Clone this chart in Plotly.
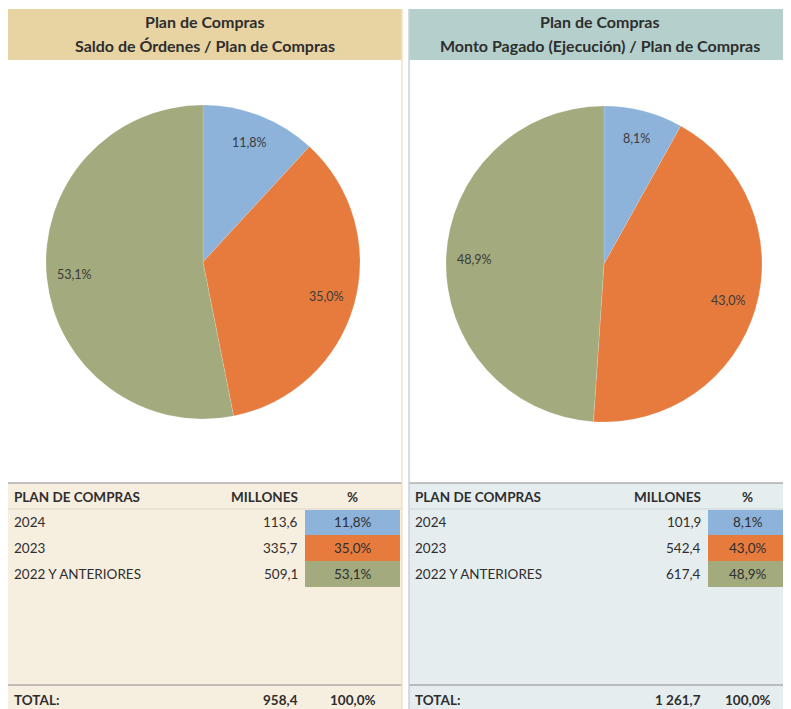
import math
import plotly.graph_objects as go

# page body has an 8px margin; design in screenshot pixels and offset
OFF = 8
W, H = 791, 709
FW, FH = W - OFF, H - OFF

# ---- data ----
categories = ["2024", "2023", "2022 Y ANTERIORES"]
saldo_millones = [113.6, 335.7, 509.1]
saldo_pct = [11.8, 35.0, 53.1]
saldo_total = 958.4
pagado_millones = [101.9, 542.4, 617.4]
pagado_pct = [8.1, 43.0, 48.9]
pagado_total = 1261.7
total_pct = 100.0

title_top = "Plan de Compras"
title_left = "Saldo de Órdenes / Plan de Compras"
title_right = "Monto Pagado (Ejecución) / Plan de Compras"
col_headers = ["PLAN DE COMPRAS", "MILLONES", "%"]

slice_colors = ["#8DB3DA", "#E67B3D", "#A3AA7D"]
FONT = "Lato"
TXT = "#2E2E2E"
TS = 13.5


def px(x):
    return (x - OFF) / FW


def py(y):
    return 1 - (y - OFF) / FH


def fmt_num(v):
    s = f"{v:,.1f}"
    return s.replace(",", " ").replace(".", ",")


def fmt_pct(v):
    return f"{v:.1f}".replace(".", ",") + "%"


def text(x, y, s, anchor="center", size=TS, color=TXT):
    return dict(x=px(x), y=py(y), text=s, showarrow=False, xref="paper", yref="paper",
                xanchor=anchor, yanchor="middle",
                font=dict(size=size, color=color, family=FONT))


fig = go.Figure()
shapes = []
ann = []

panels = [
    dict(x0=8, x1=402, head="#E8D3A3", tbl="#F6EFE0", mid_line="#DDD5C6",
         center=(203, 262), r=157, vals=saldo_millones, pct=saldo_pct,
         total=saldo_total, title=title_left,
         name_x=12, num_x=300, pct_x0=305, pct_x1=400),
    dict(x0=409, x1=791, head="#B5D0CC", tbl="#E6EDEE", mid_line="#CDD5D8",
         center=(604, 264), r=158, vals=pagado_millones, pct=pagado_pct,
         total=pagado_total, title=title_right,
         name_x=413, num_x=703, pct_x0=708, pct_x1=787),
]

for p in panels:
    shapes.append(dict(type="rect", xref="paper", yref="paper",
                       x0=px(p["x0"]), x1=px(p["x1"]), y0=py(60), y1=py(9),
                       fillcolor=p["head"], line=dict(width=0), layer="below"))
    shapes.append(dict(type="rect", xref="paper", yref="paper",
                       x0=px(p["x0"]), x1=px(p["x1"]), y0=py(709), y1=py(483),
                       fillcolor=p["tbl"], line=dict(width=0), layer="below"))
    for yy, col, wd in [(483, "#8C8C8C", 1.2), (509, p["mid_line"], 1), (685, "#8C8C8C", 1.2)]:
        shapes.append(dict(type="line", xref="paper", yref="paper",
                           x0=px(p["x0"]), x1=px(p["x1"]), y0=py(yy), y1=py(yy),
                           line=dict(color=col, width=wd)))
    row_tops = [510, 535, 561, 587]
    for i in range(3):
        shapes.append(dict(type="rect", xref="paper", yref="paper",
                           x0=px(p["pct_x0"]), x1=px(p["pct_x1"]),
                           y0=py(row_tops[i + 1]), y1=py(row_tops[i]),
                           fillcolor=slice_colors[i], line=dict(width=0)))
    cx = (p["x0"] + p["x1"]) / 2
    ann.append(text(cx, 21, f"<b>{title_top}</b>", size=16))
    ann.append(text(cx, 46, f"<b>{p['title']}</b>", size=16))

    c, r = p["center"], p["r"]
    fig.add_trace(go.Pie(
        labels=categories, values=p["vals"], sort=False, direction="clockwise",
        rotation=0, textinfo="none", hoverinfo="label+percent",
        marker=dict(colors=slice_colors, line=dict(color="rgba(255,255,255,0.3)", width=0.5)),
        domain=dict(x=[px(c[0] - r), px(c[0] + r)], y=[py(c[1] + r), py(c[1] - r)]),
        showlegend=False))
    total = sum(p["vals"])
    cum = 0
    for v, pc in zip(p["vals"], p["pct"]):
        mid = (cum + v / 2) / total * 2 * math.pi
        cum += v
        rr = 0.82 * r
        lx = c[0] + rr * math.sin(mid)
        ly = c[1] - rr * math.cos(mid)
        ann.append(text(lx, ly, fmt_pct(pc), size=12.5, color="#3A3A3A"))

    pcx = (p["pct_x0"] + p["pct_x1"]) / 2
    ann.append(text(p["name_x"], 497, f"<b>{col_headers[0]}</b>", anchor="left"))
    ann.append(text(p["num_x"], 497, f"<b>{col_headers[1]}</b>", anchor="right"))
    ann.append(text(pcx, 497, f"<b>{col_headers[2]}</b>"))
    row_y = [522, 548, 574]
    for i in range(3):
        ann.append(text(p["name_x"], row_y[i], categories[i], anchor="left"))
        ann.append(text(p["num_x"], row_y[i], fmt_num(p["vals"][i]), anchor="right"))
        ann.append(text(pcx, row_y[i], fmt_pct(p["pct"][i])))
    ann.append(text(p["name_x"], 700, "<b>TOTAL:</b>", anchor="left"))
    ann.append(text(p["num_x"], 700, f"<b>{fmt_num(p['total'])}</b>", anchor="right"))
    ann.append(text(pcx, 700, f"<b>{fmt_pct(total_pct)}</b>"))

shapes.append(dict(type="line", xref="paper", yref="paper", x0=px(402), x1=px(402), y0=0, y1=py(9),
                   line=dict(color="#EFE2C6", width=1.5)))
shapes.append(dict(type="line", xref="paper", yref="paper", x0=px(409), x1=px(409), y0=0, y1=py(9),
                   line=dict(color="#C9D0DA", width=1.5)))

fig.update_layout(width=FW, height=FH, margin=dict(l=0, r=0, t=0, b=0),
                  paper_bgcolor="white", plot_bgcolor="white",
                  shapes=shapes, annotations=ann, font=dict(family=FONT))
fig.write_html("out.html")
